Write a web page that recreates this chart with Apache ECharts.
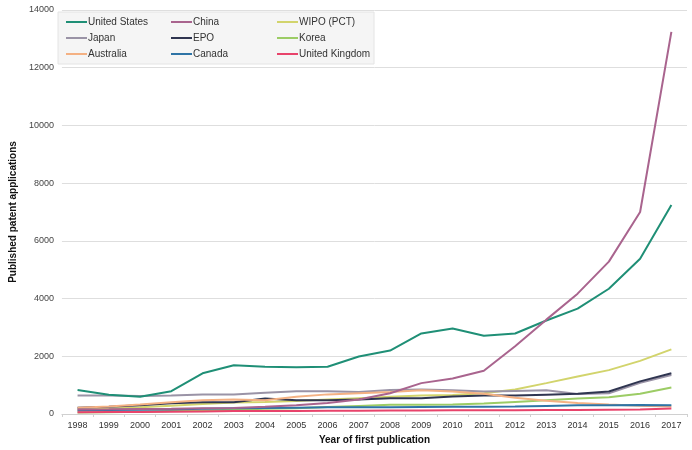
<!DOCTYPE html>
<html>
<head>
<meta charset="utf-8">
<script src="https://cdn.jsdelivr.net/npm/echarts@6/dist/echarts.min.js"></script>
<style>html,body{margin:0;padding:0;background:#fff}#c{width:692px;height:450px}</style>
</head>
<body>
<div id="c"></div>
<script>
var years = ['1998','1999','2000','2001','2002','2003','2004','2005','2006','2007','2008','2009','2010','2011','2012','2013','2014','2015','2016','2017'];
var yTicks = [0, 2000, 4000, 6000, 8000, 10000, 12000, 14000];

var unitedStates = [830, 670, 600, 790, 1410, 1690, 1640, 1620, 1640, 1990, 2200, 2790, 2960, 2710, 2790, 3240, 3650, 4340, 5380, 7240];
var china        = [160, 165, 175, 185, 200, 210, 250, 300, 380, 500, 720, 1070, 1230, 1500, 2350, 3270, 4170, 5280, 7000, 13240];
var wipo         = [150, 180, 230, 290, 350, 400, 420, 450, 500, 550, 600, 640, 660, 720, 850, 1070, 1300, 1520, 1840, 2240];
var japan        = [640, 640, 620, 640, 680, 680, 740, 790, 790, 760, 830, 850, 820, 780, 800, 820, 690, 720, 1080, 1350];
var epo          = [220, 250, 300, 370, 410, 410, 540, 480, 480, 500, 550, 550, 610, 640, 640, 670, 700, 780, 1130, 1410];
var korea        = [50, 60, 80, 100, 120, 150, 180, 200, 240, 280, 320, 320, 330, 360, 420, 480, 540, 580, 700, 920];
var australia    = [220, 260, 330, 410, 480, 500, 480, 600, 680, 720, 760, 820, 780, 700, 560, 460, 380, 330, 290, 260];
var canada       = [120, 140, 150, 160, 180, 200, 210, 220, 230, 230, 230, 240, 250, 250, 260, 280, 300, 300, 310, 300];
var unitedKingdom= [60, 70, 70, 80, 90, 100, 100, 100, 110, 110, 120, 120, 130, 130, 130, 140, 140, 150, 160, 190];

var names = ['United States','China','WIPO (PCT)','Japan','EPO','Korea','Australia','Canada','United Kingdom'];
var values = [unitedStates, china, wipo, japan, epo, korea, australia, canada, unitedKingdom];
var colors = ['#1f8f76','#a9648e','#d2d46c','#9a93a6','#2f3550','#9ccc65','#f4b183','#2e74a6','#e8436b'];

var series = names.map(function(n, i){
  return {
    name: n, type: 'line', data: values[i], symbol: 'none', smooth: false,
    lineStyle: {width: 2, color: colors[i]}, itemStyle: {color: colors[i]},
    z: 10 - (i === 0 || i === 1 ? 0 : 1)
  };
});

function legendCol(left, items){
  return {
    orient: 'vertical', left: left, top: 16, itemGap: 4,
    itemWidth: 21, itemHeight: 2, icon: 'rect',
    data: items,
    textStyle: {fontFamily: 'Liberation Sans', fontSize: 10, color: '#333', lineHeight: 12, padding: [0,0,0,-4]},
    padding: 0
  };
}

var chart = echarts.init(document.getElementById('c'));
chart.setOption({
  animation: false,
  color: colors,
  graphic: [{
    type: 'rect', z: 0, silent: true,
    shape: {x: 58, y: 12, width: 316, height: 52},
    style: {fill: '#f5f5f5', stroke: '#e4e4e4', lineWidth: 1}
  }],
  legend: [
    legendCol(66, ['United States','Japan','Australia']),
    legendCol(171, ['China','EPO','Canada']),
    legendCol(277, ['WIPO (PCT)','Korea','United Kingdom'])
  ],
  grid: {left: 58, right: 5, top: 10, bottom: 34, containLabel: false},
  xAxis: {
    type: 'category', data: years, boundaryGap: true,
    name: 'Year of first publication', nameLocation: 'middle', nameGap: 21,
    nameTextStyle: {fontFamily: 'Liberation Sans', fontSize: 10, fontWeight: 'bold', color: '#111'},
    axisLine: {lineStyle: {color: '#d0d0d0'}},
    axisTick: {show: true, length: 3, lineStyle: {color: '#d0d0d0'}},
    axisLabel: {fontFamily: 'Liberation Sans', fontSize: 9, color: '#333', margin: 7, interval: 0}
  },
  yAxis: {
    type: 'value', min: yTicks[0], max: yTicks[yTicks.length-1], interval: yTicks[1]-yTicks[0],
    name: 'Published patent applications', nameLocation: 'middle', nameGap: 38,
    nameTextStyle: {fontFamily: 'Liberation Sans', fontSize: 10, fontWeight: 'bold', color: '#111'},
    axisLine: {show: false}, axisTick: {show: false},
    splitLine: {lineStyle: {color: '#dedede'}},
    axisLabel: {fontFamily: 'Liberation Sans', fontSize: 9, color: '#444', margin: 8,
      formatter: function(v){ return String(v); }}
  },
  series: series
});
</script>
</body>
</html>
